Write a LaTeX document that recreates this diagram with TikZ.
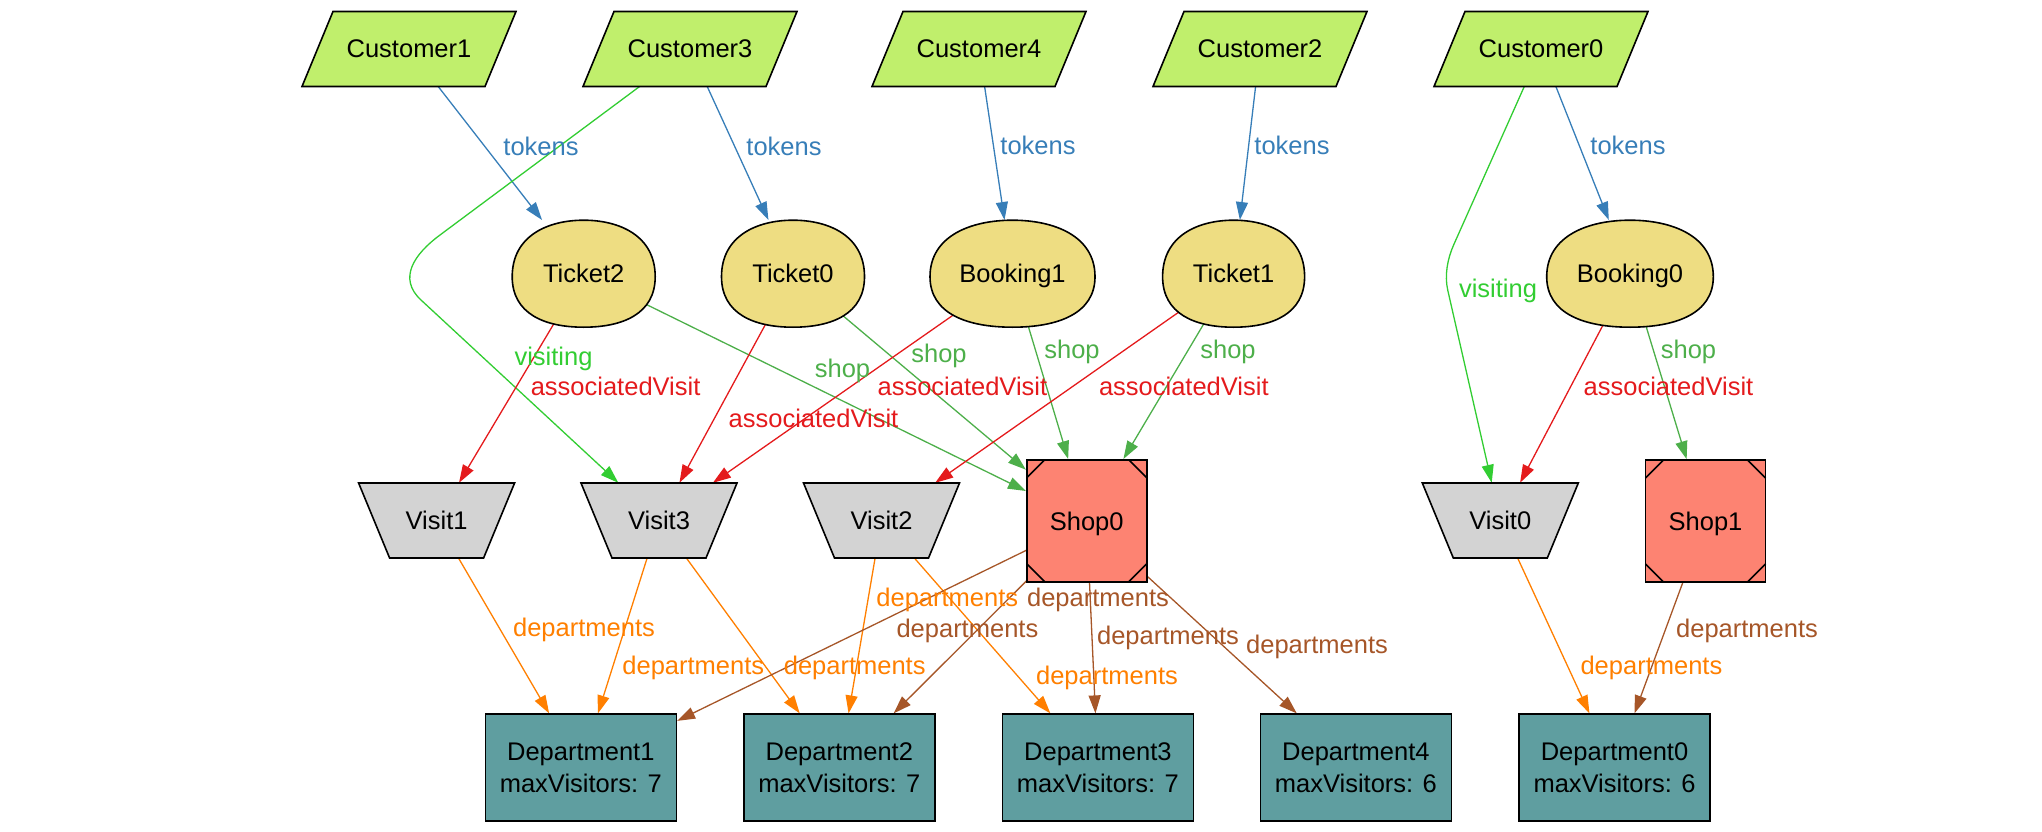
\documentclass[tikz,border=0pt]{standalone}
\usepackage{fontspec}
\setmainfont{Liberation Sans}
\usetikzlibrary{arrows.meta,calc}

\pgfdeclarelayer{edges}
\pgfdeclarelayer{shapes}
\pgfsetlayers{edges,shapes,main}

\definecolor{custfill}{HTML}{C0EF6C}
\definecolor{ticketfill}{HTML}{EEDD82}
\definecolor{visitfill}{HTML}{D3D3D3}
\definecolor{shopfill}{HTML}{FD8372}
\definecolor{deptfill}{HTML}{5F9EA0}
\definecolor{ctokens}{HTML}{377EB8}
\definecolor{cvisiting}{HTML}{32CD32}
\definecolor{cshop}{HTML}{4DAF4A}
\definecolor{cassoc}{HTML}{E41A1C}
\definecolor{cdeptv}{HTML}{FF7F00}
\definecolor{cdepts}{HTML}{A65628}

% egg-like outline for ticket and booking nodes: #1 node, #2 half width
\newcommand\eggoutline[2]{%
  \filldraw[outline, fill=ticketfill, shift={(#1.center)}]
    (-#2,3) .. controls (-#2,-38) and (-0.5*#2,-53.5) .. (0,-53.5)
    .. controls (0.5*#2,-53.5) and (#2,-38) .. (#2,3)
    .. controls (#2,40) and (0.55*#2,53.5) .. (0,53.5)
    .. controls (-0.55*#2,53.5) and (-#2,40) .. cycle;}

\begin{document}
\begin{tikzpicture}[x=1pt,y=-1pt,
  every node/.style={font=\fontsize{25.5}{31.7}\selectfont, inner sep=0pt, text depth=0pt},
  outline/.style={draw=black, line width=1.6pt},
  cust/.style={minimum width=214pt, minimum height=75pt},
  ticket/.style={minimum width=#1, minimum height=107pt},
  visit/.style={minimum width=156pt, minimum height=75pt},
  shop/.style={outline, fill=shopfill, minimum width=120pt, minimum height=122pt},
  dept/.style={outline, fill=deptfill, minimum width=191pt, minimum height=107pt, align=center},
  conn/.style={line width=1.3pt, -{Triangle[length=18pt,width=12pt]}},
  tok/.style={conn, draw=ctokens},
  vis/.style={conn, draw=cvisiting},
  shp/.style={conn, draw=cshop},
  asv/.style={conn, draw=cassoc},
  depv/.style={conn, draw=cdeptv},
  deps/.style={conn, draw=cdepts},
  lbl/.style={anchor=base}]

\useasboundingbox (0,0) rectangle (2042,832);

% customers
\node[cust] (c1) at (409,49) {Customer1};
\node[cust] (c3) at (690,49) {Customer3};
\node[cust] (c4) at (979,49) {Customer4};
\node[cust] (c2) at (1260,49) {Customer2};
\node[cust] (c0) at (1541,49) {Customer0};

% tickets and bookings
\node[ticket=143pt] (t2) at (583.7,273.7) {Ticket2};
\node[ticket=143pt] (t0) at (793,273.7) {Ticket0};
\node[ticket=165pt] (b1) at (1012.5,273.7) {Booking1};
\node[ticket=142pt] (t1) at (1233.6,273.7) {Ticket1};
\node[ticket=167pt] (b0) at (1630,273.7) {Booking0};

% visits
\node[visit] (v1) at (436.6,520.5) {Visit1};
\node[visit] (v3) at (659,520.5) {Visit3};
\node[visit] (v2) at (881.5,520.5) {Visit2};
\node[visit] (v0) at (1500.3,520.5) {Visit0};

% shops
\node[shop] (s0) at (1086.7,520.8) {Shop0};
\node[shop] (s1) at (1705.5,521) {Shop1};
\foreach \n in {s0,s1}
  \draw[outline, shift={(\n.center)}]
    (-60,-43) -- (-42,-61) (42,-61) -- (60,-43)
    (-60,43) -- (-42,61) (42,61) -- (60,43);

% departments
\node[dept] (d1) at (580.8,767.7) {Department1\\maxVisitors: 7};
\node[dept] (d2) at (839.3,767.7) {Department2\\maxVisitors: 7};
\node[dept] (d3) at (1097.9,767.7) {Department3\\maxVisitors: 7};
\node[dept] (d4) at (1355.9,767.7) {Department4\\maxVisitors: 6};
\node[dept] (d0) at (1614.5,767.7) {Department0\\maxVisitors: 6};

% node outlines drawn beneath the node texts
\begin{pgfonlayer}{shapes}
  \foreach \n in {c1,c3,c4,c2,c0}
    \filldraw[outline, fill=custfill, shift={(\n.center)}]
      (-76,-37.5) -- (107,-37.5) -- (76,37.5) -- (-107,37.5) -- cycle;
  \eggoutline{t2}{71.5}
  \eggoutline{t0}{71.5}
  \eggoutline{b1}{82.5}
  \eggoutline{t1}{71}
  \eggoutline{b0}{83.3}
  \foreach \n in {v1,v3,v2,v0}
    \filldraw[outline, fill=visitfill, shift={(\n.center)}]
      (-78,-37.5) -- (78,-37.5) -- (47,37.5) -- (-47,37.5) -- cycle;
\end{pgfonlayer}

% connectors
\begin{pgfonlayer}{edges}
  \draw[tok] (c1.center) -- (t2);
  \draw[tok] (c3.center) -- (t0);
  \draw[tok] (c4.center) -- (b1);
  \draw[tok] (c2.center) -- (t1);
  \draw[tok] (c0.center) -- (b0);

  \draw[vis] (c3.center) -- (440,235) .. controls (414.3,254) and (397.5,278.3) .. (421,300) -- (v3);
  \draw[vis] (c0.center) -- (1453.6,245) .. controls (1447.5,258.7) and (1444.4,275.4) .. (1447.7,290) -- (v0);

  \draw[shp] (t2.center) -- (s0);
  \draw[shp] (t0.center) -- (s0);
  \draw[shp] (b1.center) -- (s0);
  \draw[shp] (t1.center) -- (s0);
  \draw[shp] (b0.center) -- (s1);

  \draw[asv] (t2.center) -- (v1);
  \draw[asv] (t0.center) -- (v3);
  \draw[asv] (b1.center) -- (v3);
  \draw[asv] (t1.center) -- (v2);
  \draw[asv] (b0.center) -- (v0);

  \draw[depv] (v1.center) -- (d1);
  \draw[depv] (v3.center) -- (d1);
  \draw[depv] (v3.center) -- (d2);
  \draw[depv] (v2.center) -- (d2);
  \draw[depv] (v2.center) -- (d3);
  \draw[depv] (v0.center) -- (d0);

  \draw[deps] (s0.center) -- (d1);
  \draw[deps] (s0.center) -- (d2);
  \draw[deps] (s0.center) -- (d3);
  \draw[deps] (s0.center) -- (d4);
  \draw[deps] (s1.center) -- (d0);
\end{pgfonlayer}

% connector labels
\begin{scope}[every node/.append style={lbl}]
  \node[text=ctokens] (lt1) at (541,156) {tokens};
  \node[text=ctokens] (lt3) at (784,156) {tokens};
  \node[text=ctokens] (lt4) at (1038,154) {tokens};
  \node[text=ctokens] (lt2) at (1292,154) {tokens};
  \node[text=ctokens] (lt0) at (1628,154) {tokens};

  \node[text=cvisiting] (lv3) at (553.5,365) {visiting};
  \node[text=cvisiting] (lv0) at (1498,297) {visiting};

  \node[text=cshop] (ls1) at (842.5,377) {shop};
  \node[text=cshop] (ls2) at (939,362) {shop};
  \node[text=cshop] (ls3) at (1072,358.5) {shop};
  \node[text=cshop] (ls4) at (1228,358.5) {shop};
  \node[text=cshop] (ls5) at (1688.5,358.5) {shop};

  \node[text=cassoc] (la1) at (615.6,395) {associatedVisit};
  \node[text=cassoc] (la2) at (813.5,427.7) {associatedVisit};
  \node[text=cassoc] (la3) at (962.4,395) {associatedVisit};
  \node[text=cassoc] (la4) at (1183.8,395) {associatedVisit};
  \node[text=cassoc] (la5) at (1668.5,395) {associatedVisit};

  \node[text=cdeptv] (lo1) at (584,636) {departments};
  \node[text=cdeptv] (lo2) at (693.3,674) {departments};
  \node[text=cdeptv] (lo3) at (854.7,674) {departments};
  \node[text=cdeptv] (lo4) at (947.3,606) {departments};
  \node[text=cdeptv] (lo5) at (1107,684) {departments};
  \node[text=cdeptv] (lo6) at (1651.4,674) {departments};

  \node[text=cdepts] (lb1) at (1098,606) {departments};
  \node[text=cdepts] (lb2) at (967.4,637.3) {departments};
  \node[text=cdepts] (lb3) at (1168,644) {departments};
  \node[text=cdepts] (lb4) at (1317,653) {departments};
  \node[text=cdepts] (lb5) at (1747,637) {departments};
\end{scope}

\end{tikzpicture}
\end{document}
